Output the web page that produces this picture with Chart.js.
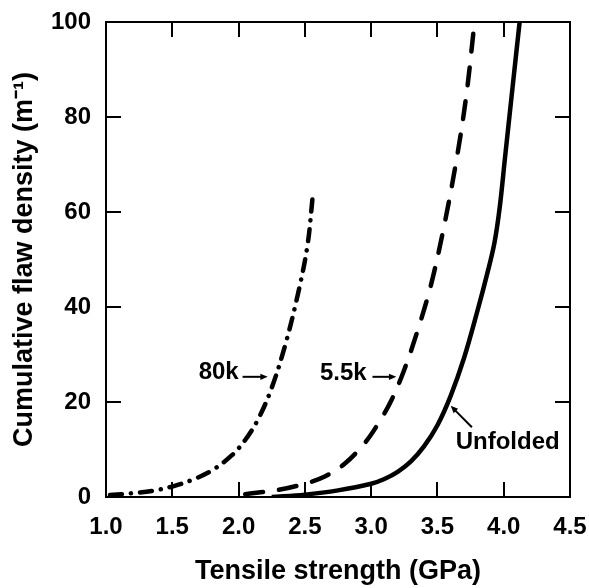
<!DOCTYPE html>
<html>
<head>
<meta charset="utf-8">
<script src="https://cdn.jsdelivr.net/npm/chart.js@4"></script>
<style>
  html, body { margin: 0; padding: 0; background: #fff; }
  #wrap { width: 589px; height: 588px; }
</style>
</head>
<body>
<div id="wrap"><canvas id="myChart" width="589" height="588"></canvas></div>
<script>
// values
const unfoldedX = [2.25, 2.5, 2.75, 3.0, 3.1, 3.2, 3.3, 3.4, 3.5, 3.6, 3.7, 3.8, 3.88, 3.93, 3.97, 4.01, 4.06, 4.12];
const unfoldedY = [0, 0.5, 1.4, 2.8, 3.8, 5.3, 7.5, 10.7, 15.1, 21.3, 29.2, 39, 47.5, 53.5, 61, 71.5, 84.5, 100];

const k55X = [2.05, 2.3, 2.5, 2.65, 2.8, 2.95, 3.05, 3.15, 3.25, 3.35, 3.45, 3.55, 3.65, 3.72, 3.78];
const k55Y = [0.6, 1.5, 2.8, 4.3, 7, 11.3, 15.3, 20.2, 26.8, 35, 44.5, 57, 72, 85, 100];

const k80X = [1.03, 1.2, 1.35, 1.5, 1.65, 1.8, 1.95, 2.05, 2.15, 2.25, 2.35, 2.45, 2.52, 2.56];
const k80Y = [0.4, 0.8, 1.3, 2.2, 3.6, 5.6, 8.8, 12, 16.5, 23, 31.8, 43, 53, 63.5];

const xTicks = [1.0, 1.5, 2.0, 2.5, 3.0, 3.5, 4.0, 4.5];
const yTicks = [0, 20, 40, 60, 80, 100];

const FONT = 'Arial, "Liberation Sans", sans-serif';

function toPoints(xs, ys) {
    return xs.map((v, i) => ({ x: v, y: ys[i] }));
}

// curve labels, placed in data units
const notes = [
    { text: '80k', x: 1.85, y: 26.2, from: [2.03, 25.3], to: [2.22, 25.3] },
    { text: '5.5k', x: 2.79, y: 26.1, from: [3.01, 25.3], to: [3.19, 25.3] },
    { text: 'Unfolded', x: 4.03, y: 11.4, from: [3.76, 14.7], to: [3.6, 19.2] }
];

function arrow(ctx, x1, y1, x2, y2) {
    const ang = Math.atan2(y2 - y1, x2 - x1);
    const head = 8;
    ctx.beginPath();
    ctx.moveTo(x1, y1);
    ctx.lineTo(x2 - Math.cos(ang) * head * 0.8, y2 - Math.sin(ang) * head * 0.8);
    ctx.stroke();
    ctx.beginPath();
    ctx.moveTo(x2, y2);
    ctx.lineTo(x2 - head * Math.cos(ang - 0.4), y2 - head * Math.sin(ang - 0.4));
    ctx.lineTo(x2 - head * Math.cos(ang + 0.4), y2 - head * Math.sin(ang + 0.4));
    ctx.closePath();
    ctx.fill();
}

// box frame, inward ticks on all four sides, curve labels
const frameAndNotes = {
    id: 'frameAndNotes',
    afterDatasetsDraw(chart) {
        const { ctx, chartArea: a, scales: { x, y } } = chart;
        const len = 15;
        ctx.save();
        ctx.strokeStyle = '#000';
        ctx.fillStyle = '#000';
        ctx.lineWidth = 2;
        ctx.strokeRect(a.left, a.top, a.right - a.left, a.bottom - a.top);
        ctx.beginPath();
        xTicks.forEach(v => {
            if (v <= x.min + 1e-6 || v >= x.max - 1e-6) return;
            const px = Math.round(x.getPixelForValue(v));
            ctx.moveTo(px, a.bottom); ctx.lineTo(px, a.bottom - len);
            ctx.moveTo(px, a.top); ctx.lineTo(px, a.top + len);
        });
        yTicks.forEach(v => {
            if (v <= y.min || v >= y.max) return;
            const py = Math.round(y.getPixelForValue(v));
            ctx.moveTo(a.left, py); ctx.lineTo(a.left + len, py);
            ctx.moveTo(a.right, py); ctx.lineTo(a.right - len, py);
        });
        ctx.stroke();

        ctx.font = 'bold 24px ' + FONT;
        ctx.textAlign = 'center';
        ctx.textBaseline = 'middle';
        ctx.lineWidth = 2;
        notes.forEach(n => {
            ctx.fillText(n.text, x.getPixelForValue(n.x), y.getPixelForValue(n.y));
            arrow(ctx,
                x.getPixelForValue(n.from[0]), y.getPixelForValue(n.from[1]),
                x.getPixelForValue(n.to[0]), y.getPixelForValue(n.to[1]));
        });
        ctx.restore();
    }
};

// invisible tick marks only push the labels away from the frame
const hiddenGrid = { display: true, drawOnChartArea: false, drawTicks: true, color: 'rgba(0,0,0,0)' };

const ctx = document.getElementById('myChart');

new Chart(ctx, {
    type: 'line',
    data: {
        datasets: [{
            label: 'Unfolded',
            data: toPoints(unfoldedX, unfoldedY),
            borderColor: '#000',
            borderWidth: 4.5
        }, {
            label: '5.5k',
            data: toPoints(k55X, k55Y),
            borderColor: '#000',
            borderWidth: 4.5,
            borderDash: [18, 16],
            borderCapStyle: 'round'
        }, {
            label: '80k',
            data: toPoints(k80X, k80Y),
            borderColor: '#000',
            borderWidth: 4.5,
            borderDash: [12, 9, 0.1, 9],
            borderCapStyle: 'round'
        }]
    },
    options: {
        responsive: false,
        animation: false,
        elements: { point: { radius: 0 }, line: { tension: 0.35 } },
        layout: { padding: { top: 22, right: 19, left: 0, bottom: 0 } },
        plugins: {
            legend: { display: false },
            tooltip: { enabled: false }
        },
        scales: {
            x: {
                type: 'linear',
                min: 1.0,
                max: 4.5,
                grid: Object.assign({ tickLength: 16 }, hiddenGrid),
                border: { display: false },
                afterBuildTicks: scale => { scale.ticks = xTicks.map(v => ({ value: v })); },
                afterFit: scale => { scale.height = 91; },
                ticks: {
                    color: '#000',
                    padding: 0,
                    autoSkip: false,
                    maxRotation: 0,
                    font: { family: FONT, size: 24, weight: 'bold' },
                    callback: v => Number(v).toFixed(1)
                },
                title: {
                    display: true,
                    text: 'Tensile strength (GPa)',
                    color: '#000',
                    padding: { top: 0, bottom: 0 },
                    font: { family: FONT, size: 27, weight: 'bold' }
                }
            },
            y: {
                type: 'linear',
                min: 0,
                max: 100,
                grid: Object.assign({ tickLength: 15 }, hiddenGrid),
                border: { display: false },
                afterBuildTicks: scale => { scale.ticks = yTicks.map(v => ({ value: v })); },
                afterFit: scale => { scale.width = 106; },
                ticks: {
                    color: '#000',
                    padding: 0,
                    font: { family: FONT, size: 24, weight: 'bold' }
                },
                title: {
                    display: true,
                    text: 'Cumulative flaw density (m\u207B\u00B9)',
                    color: '#000',
                    padding: { top: 8, bottom: 0 },
                    font: { family: FONT, size: 27, weight: 'bold' }
                }
            }
        }
    },
    plugins: [frameAndNotes]
});
</script>
</body>
</html>
